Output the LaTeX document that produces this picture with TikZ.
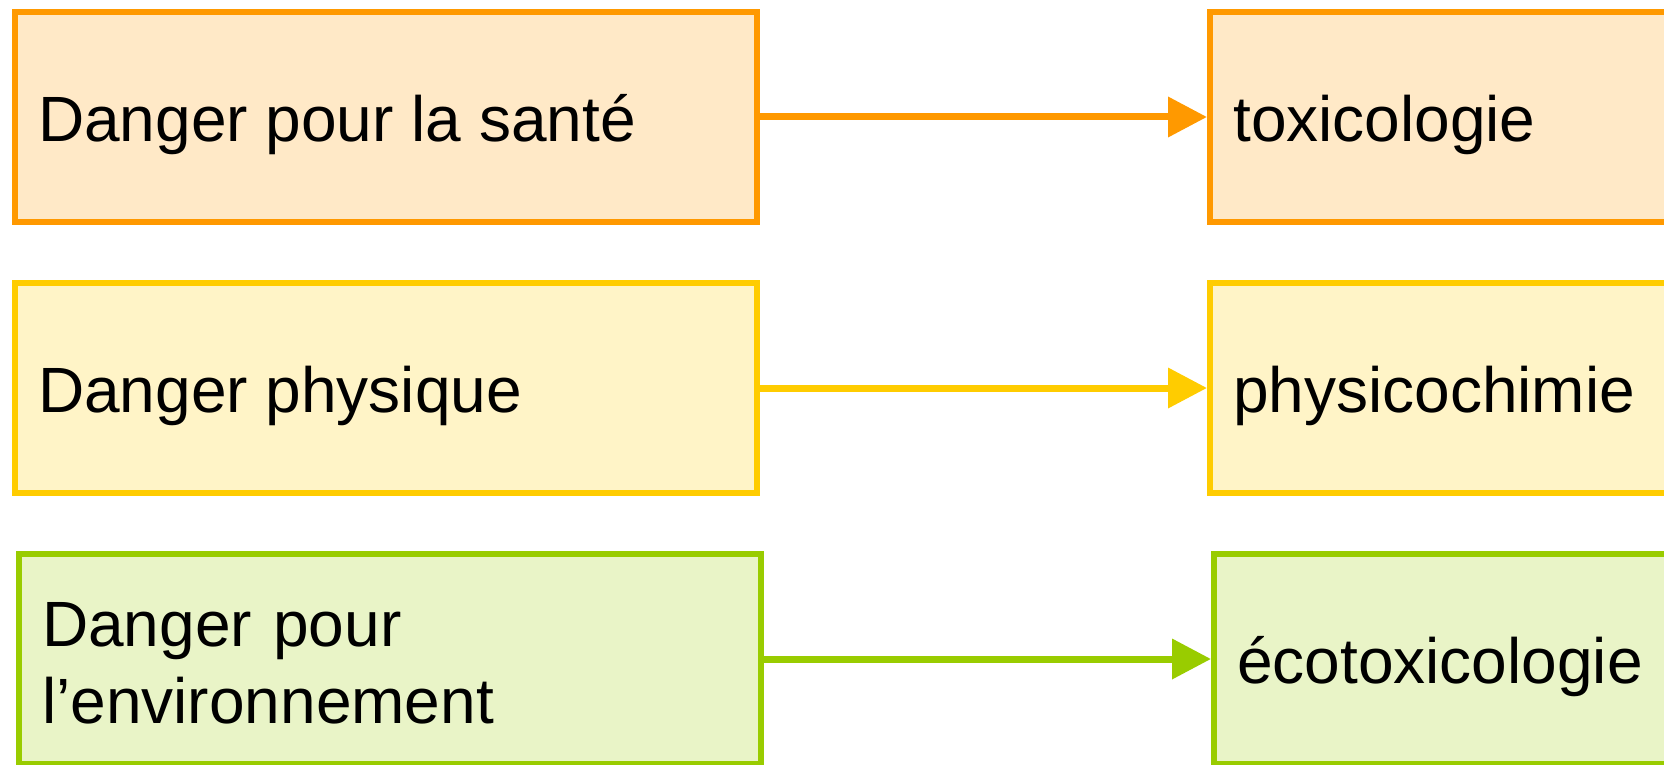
\documentclass[tikz,border=0pt]{standalone}
\usepackage{fontspec}
\setmainfont{Liberation Sans}
\usetikzlibrary{arrows.meta,positioning}

\definecolor{arancio}{HTML}{FF9900}
\definecolor{giallo}{HTML}{FFCC00}
\definecolor{verde}{HTML}{99CC00}

\tikzset{
  boite/.style={draw=#1, fill=#1!22, line width=6pt, minimum width=742pt, minimum height=210pt, inner sep=0pt},
  texte/.style={anchor=base west, inner sep=0pt, font=\fontsize{64}{77}\selectfont},
  fleche/.style={draw=#1, line width=7pt, -{Triangle[length=39pt,width=39pt]}}
}

\begin{document}
\begin{tikzpicture}[x=1pt,y=-1pt]
\useasboundingbox (0,0) rectangle (1664,765);
\clip (0,0) rectangle (1664,765);

% --- Boites ---
\node[boite=arancio] (sante) at (386,117) {};
\node[boite=arancio] (toxico) at (1581,117) {};
\node[boite=giallo] (physique) at (386,388) {};
\node[boite=giallo] (physico) at (1581,388) {};
\node[boite=verde] (envir) at (390,659) {};
\node[boite=verde] (ecotox) at (1585,659) {};

% --- Textes ---
\node[texte] (tsante) at ([xshift=26pt,yshift=-24pt]sante.west) {Danger pour la santé};
\node[texte] (ttoxico) at ([xshift=26pt,yshift=-24pt]toxico.west) {toxicologie};
\node[texte] (tphysique) at ([xshift=26pt,yshift=-24pt]physique.west) {Danger physique};
\node[texte] (tphysico) at ([xshift=26pt,yshift=-24pt]physico.west) {physicochimie};
\node[texte, text width=700pt, align=left] (tenvir) at ([xshift=26pt,yshift=13pt]envir.west) {Danger pour\\l’environnement};
\node[texte] (tecotox) at ([xshift=26pt,yshift=-24pt]ecotox.west) {écotoxicologie};

% --- Fleches ---
\draw[fleche=arancio] (sante) -- (toxico);
\draw[fleche=giallo] (physique) -- (physico);
\draw[fleche=verde] (envir) -- (ecotox);

\end{tikzpicture}
\end{document}
